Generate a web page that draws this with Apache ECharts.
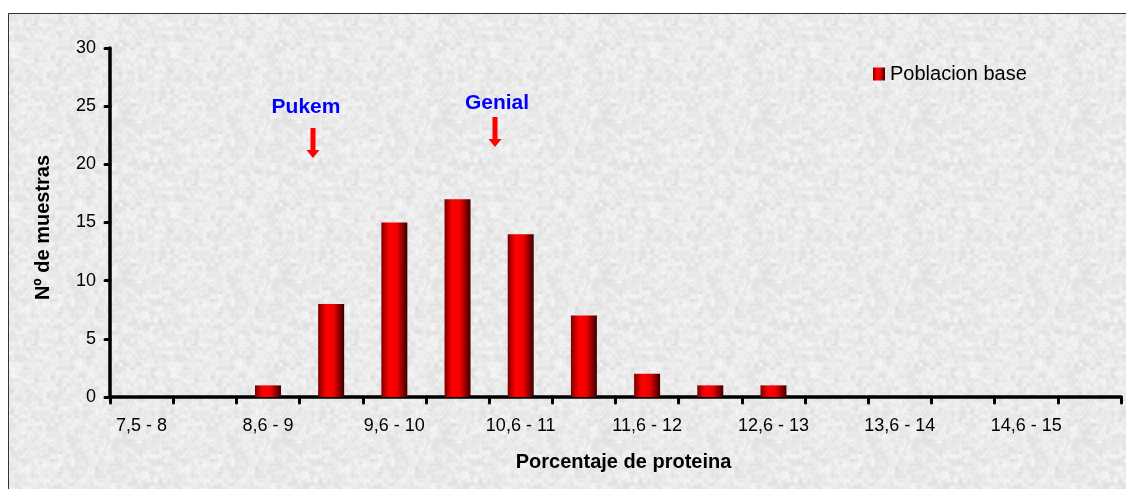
<!DOCTYPE html>
<html>
<head>
<meta charset="utf-8">
<script src="https://cdn.jsdelivr.net/npm/echarts@6/dist/echarts.min.js"></script>
<style>
html,body{margin:0;padding:0;background:#fff;}
#chart{width:1126px;height:489px;}
</style>
</head>
<body>
<div id="chart"></div>
<script>
// ---- data ----
const categories = ["7,5 - 8","8,1 - 8,5","8,6 - 9","9,1 - 9,5","9,6 - 10","10,1 - 10,5","10,6 - 11","11,1 - 11,5","11,6 - 12","12,1 - 12,5","12,6 - 13","13,1 - 13,5","13,6 - 14","14,1 - 14,5","14,6 - 15","15,1 - 15,5"];
const counts = [0,0,1,8,15,17,14,7,2,1,1,0,0,0,0,0];
const seriesName = "Poblacion base";
const yMin = 0, yMax = 30, yStep = 5;
const xTitle = "Porcentaje de proteina";
const yTitle = "Nº de muestras";
const notes = ["Pukem", "Genial"];

// ---- granite-like background texture (deterministic) ----
function hash(x, y) {
  let h = (x * 374761393 + y * 668265263) | 0;
  h = (h ^ (h >>> 13)) * 1274126177 | 0;
  h = h ^ (h >>> 16);
  return ((h >>> 0) % 1000) / 1000;
}
function makeTexture() {
  const S = 160;
  const c = document.createElement('canvas');
  c.width = S; c.height = S;
  const ctx = c.getContext('2d');
  const img = ctx.createImageData(S, S);
  function smooth(x, y, cell) {
    const gx = Math.floor(x / cell), gy = Math.floor(y / cell);
    const fx = (x % cell) / cell, fy = (y % cell) / cell;
    const n = S / cell;
    const a = hash(gx % n, gy % n), b = hash((gx + 1) % n, gy % n);
    const cc = hash(gx % n, (gy + 1) % n), d = hash((gx + 1) % n, (gy + 1) % n);
    const sx = fx * fx * (3 - 2 * fx), sy = fy * fy * (3 - 2 * fy);
    return (a * (1 - sx) + b * sx) * (1 - sy) + (cc * (1 - sx) + d * sx) * sy;
  }
  for (let y = 0; y < S; y++) {
    for (let x = 0; x < S; x++) {
      const v = 0.5 * smooth(x, y, 4) + 0.3 * smooth(x, y, 2) + 0.2 * hash(x + 7, y + 3);
      const g = Math.round(216 + v * 36);
      const i = (y * S + x) * 4;
      img.data[i] = g; img.data[i + 1] = g; img.data[i + 2] = g; img.data[i + 3] = 255;
    }
  }
  ctx.putImageData(img, 0, 0);
  return c;
}
const texture = makeTexture();

const barGradient = new echarts.graphic.LinearGradient(0, 0, 1, 0, [
  {offset: 0, color: '#7a0000'},
  {offset: 0.3, color: '#ff0000'},
  {offset: 0.6, color: '#f00000'},
  {offset: 1, color: '#3a0000'}
]);

function arrow(cx, top, bottom) {
  const headH = 8, shaftW = 5, headW = 13;
  return {
    type: 'polygon', silent: true, z: 50,
    shape: {points: [
      [cx - shaftW / 2, top], [cx + shaftW / 2, top], [cx + shaftW / 2, bottom - headH],
      [cx + headW / 2, bottom - headH], [cx, bottom], [cx - headW / 2, bottom - headH],
      [cx - shaftW / 2, bottom - headH]
    ]},
    style: {fill: '#ff0000'}
  };
}

const chart = echarts.init(document.getElementById('chart'), null, {renderer: 'canvas'});
const FONT = '"Liberation Sans", Arial, sans-serif';
chart.setOption({
  animation: false,
  backgroundColor: '#ffffff',
  textStyle: {fontFamily: FONT},
  graphic: [
    {type: 'rect', silent: true, z: -10, shape: {x: 8.5, y: 13.5, width: 1200, height: 600},
     style: {fill: {image: texture, repeat: 'repeat'}, stroke: '#333', lineWidth: 1}},
    {type: 'text', silent: true, z: 50, x: 306, y: 107,
     style: {text: notes[0], fill: '#0000ff', font: 'bold 21px ' + FONT, textAlign: 'center', textVerticalAlign: 'middle'}},
    {type: 'text', silent: true, z: 50, x: 497, y: 103,
     style: {text: notes[1], fill: '#0000ff', font: 'bold 21px ' + FONT, textAlign: 'center', textVerticalAlign: 'middle'}},
    arrow(313, 128, 158),
    arrow(495, 117, 147)
  ],
  legend: {
    left: 873, top: 64, padding: 0,
    itemWidth: 12, itemHeight: 13, itemGap: 10,
    icon: 'rect',
    textStyle: {fontSize: 20, color: '#000', fontFamily: FONT},
    data: [seriesName]
  },
  grid: {left: 110, right: 5, top: 48, bottom: 92, containLabel: false},
  xAxis: {
    type: 'category',
    data: categories,
    name: xTitle,
    nameLocation: 'middle',
    nameGap: 55,
    nameTextStyle: {fontSize: 20, fontWeight: 'bold', color: '#000', fontFamily: FONT, padding: [0, 0, 0, 16]},
    axisLine: {lineStyle: {color: '#000', width: 3.5, cap: 'round'}},
    axisTick: {show: true, interval: 0, length: 6, lineStyle: {color: '#000', width: 3, cap: 'round'}},
    axisLabel: {interval: 1, margin: 20, fontSize: 18, color: '#000', fontFamily: FONT},
    splitLine: {show: false}
  },
  yAxis: {
    type: 'value',
    min: yMin, max: yMax, interval: yStep,
    name: yTitle,
    nameLocation: 'middle',
    nameGap: 57,
    nameRotate: 90,
    nameTextStyle: {fontSize: 20, fontWeight: 'bold', color: '#000', fontFamily: FONT, padding: [0, 10, 0, 0]},
    axisLine: {show: true, lineStyle: {color: '#000', width: 3.5, cap: 'round'}},
    axisTick: {show: true, length: 5, lineStyle: {color: '#000', width: 3, cap: 'round'}},
    axisLabel: {margin: 14, fontSize: 18, color: '#000', fontFamily: FONT},
    splitLine: {show: false}
  },
  series: [{
    name: seriesName,
    type: 'bar',
    data: counts,
    barWidth: 26,
    itemStyle: {color: barGradient},
    z: 2
  }]
});
</script>
</body>
</html>
